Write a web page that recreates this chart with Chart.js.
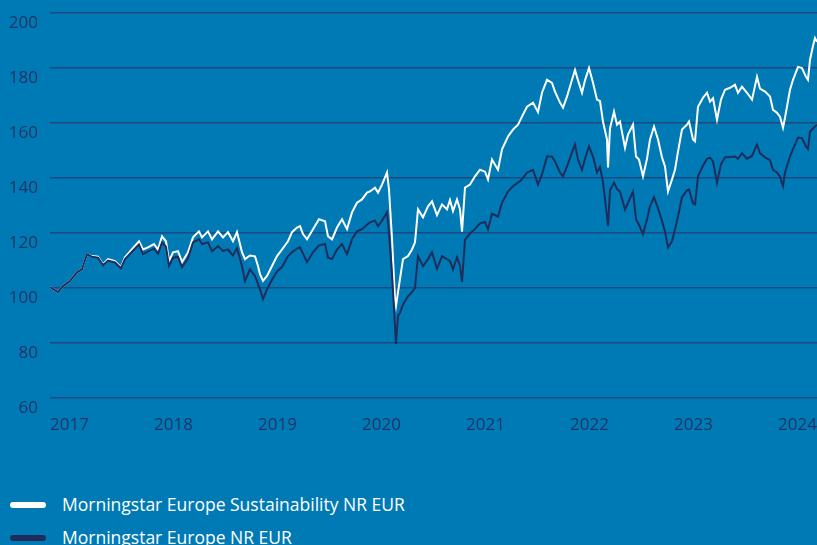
<!DOCTYPE html>
<html>
<head>
<meta charset="utf-8">
<script src="https://cdn.jsdelivr.net/npm/chart.js@4.4.1/dist/chart.umd.min.js"></script>
<style>
  body { margin: 0; background: #007ab5; font-family: "Open Sans", sans-serif; }
  #wrap { position: relative; width: 817px; height: 545px; overflow: hidden; }
  #box { position: absolute; left: 0; top: 0; width: 817px; height: 450px; }
  .leg { position: absolute; left: 10px; height: 24px; line-height: 24px; color: #fff; font-size: 17.5px; white-space: nowrap; }
  .leg i { display: inline-block; width: 36px; height: 6px; border-radius: 3px; vertical-align: middle; margin-right: 16px; position: relative; top: -1px; }
</style>
</head>
<body>
<div id="wrap">
  <div id="box"><canvas id="chart"></canvas></div>
  <div class="leg" id="leg1" style="top:492px"></div>
  <div class="leg" id="leg2" style="top:525px"></div>
</div>
<script>
// weeks since start of 2017
const weeks = [0, 4, 6.5, 10, 13.5, 16, 18.5, 21, 24, 26.5, 29, 32.5, 35.5, 37.5, 41, 44.5, 46.5, 49, 52, 54,
  56, 58, 59.5, 61.5, 64, 66, 69, 71.5, 74.5, 76, 79, 81, 84, 86.5, 89, 91.5, 93.5, 96, 97.5, 100,
  102.5, 104, 105, 106.5, 108.5, 111, 113.5, 116, 119, 121, 123.5, 125, 126.5, 128.5, 131.5, 134.5, 137.5, 139, 141, 143.5,
  146, 148.5, 151, 153.5, 156, 158.5, 160, 162.5, 164, 166, 168.5, 169.5, 171, 172.5, 173, 174, 175, 176.5, 179, 181,
  182.5, 184, 186.5, 189, 191, 193.5, 196, 198.5, 200, 201.5, 203.5, 205, 206, 207.5, 210, 212.5, 215, 217.5, 219, 221,
  224, 226, 229, 231.5, 234, 236, 238.5, 241.5, 244, 246, 248.5, 251, 252.5, 255, 256.5, 258.5, 261, 262.5, 264, 266,
  267.5, 269.5, 271.5, 273.5, 275, 276.5, 278.5, 279, 280, 282, 283.5, 285, 287.5, 289, 291.5, 293, 294.5, 296.5, 298.5, 300,
  302, 304, 306, 307.5, 309, 311, 312.5, 314, 316, 318.5, 319.5, 321.5, 322.5, 324, 326.5, 328.5, 330, 331.5, 333.5, 335.5,
  337.5, 340, 342.5, 344, 346, 348.5, 351, 353.5, 355, 357.5, 360, 361.5, 363.5, 365, 366.5, 367.5, 370, 371.5, 374, 376,
  378, 379, 380, 381.5, 382.5, 383.5];

const sustainability = [100.3, 98.5, 100.7, 102.5, 105.7, 106.8, 112.2, 111.6, 111.4, 108.6, 110.5, 109.8, 107.6, 111.2, 114.1, 117, 114, 114.8, 116, 114,
  118.8, 117, 109.8, 113, 113.4, 109.4, 113, 118.4, 120.6, 118.4, 120.6, 117.7, 120.6, 118.4, 120.3, 117, 120.3, 113, 110.5, 111.8,
  111.5, 108, 105, 102.6, 104.4, 108, 111.6, 114, 117, 120.3, 122, 122.5, 119.6, 117.7, 121.4, 125, 124.3, 118.8, 117.7, 122,
  125, 121.4, 127.5, 131, 132.2, 134.7, 135.1, 136.5, 134.7, 137.6, 142, 135.8, 118, 96, 93.5, 98.5, 103.3, 110.5, 111.6, 114,
  116.6, 128.6, 125.7, 129.7, 131.5, 126.5, 130.4, 128.6, 132, 128, 132.2, 128.6, 120.5, 136.5, 137.6, 140.6, 143, 142.3, 139.5, 146.7,
  143, 150.4, 155.1, 157.6, 159.4, 162.3, 165.9, 167.4, 164, 171, 175.7, 174.6, 171.4, 167.4, 165.6, 169.6, 175.7, 179.3, 175.5, 171,
  175.5, 180, 174.6, 168.5, 168, 160.5, 154, 143.8, 158, 164.1, 159.4, 160.5, 151, 155.8, 159.4, 147.8, 146.7, 140.6, 147, 154,
  158.7, 154, 147.5, 144.2, 135.1, 139.5, 143, 149.6, 157.6, 159.4, 160.5, 154, 153.3, 165.9, 169.2, 171, 167.8, 169, 161.2, 168.5,
  172.1, 172.8, 173.9, 171, 173.2, 171, 168.5, 176.8, 172.5, 171.4, 169.6, 164.8, 163.7, 162.3, 158.3, 161.9, 172.1, 175.7, 180.4, 180,
  176.8, 175.7, 183, 188, 190.9, 189.5];

const europe = [100.3, 98.5, 100.7, 102.5, 105.7, 106.8, 112.2, 111.4, 111, 108.3, 110, 109.3, 107.2, 110.5, 113.2, 115.8, 112.3, 113.3, 114.3, 112.5,
  116.5, 115, 108, 111, 111.3, 107.6, 110.8, 116.6, 117.7, 116, 116.6, 113.4, 115.2, 113.5, 114, 111.8, 114.5, 108, 102.6, 106.8,
  104.4, 101.5, 99.5, 96, 99.5, 103, 106, 107.6, 111.6, 113, 114.3, 114.8, 112.5, 109.4, 113, 115.5, 116, 111, 110.5, 114,
  116, 112.3, 117.7, 120.6, 121.4, 123, 123.9, 124.5, 122.5, 124.5, 127.5, 120, 105, 86, 79.7, 89.9, 91, 94, 97, 98.5,
  100, 111.6, 108, 110.5, 113, 107, 111.6, 110.5, 109.8, 106.8, 111.2, 108, 102.2, 117.5, 119.8, 121.5, 123.5, 124, 121.4, 127,
  126, 131, 135.1, 137, 138.3, 139.5, 142, 143, 137.6, 141.3, 147.8, 147.8, 146, 142, 140.6, 144.2, 149.3, 152.2, 146.7, 143,
  147, 151.5, 147.8, 142, 144, 138.5, 126, 122.5, 135.5, 138.3, 136, 135, 128.5, 131, 135.1, 125, 123, 119.6, 125, 129.7,
  133, 129, 124.5, 120.5, 114.8, 117, 121.4, 126, 133, 135.5, 135.8, 130.8, 130.4, 140.6, 144.5, 147, 147.4, 146, 138.3, 145,
  147.5, 147.6, 147.8, 147, 149, 147, 148, 152.2, 149, 147.5, 146.5, 143, 142, 140.5, 137, 142, 147.8, 150.5, 154.7, 154.5,
  151.5, 150.5, 156.9, 158, 158.7, 159.4];

const yearTicks = [0, 52, 104, 156, 208, 260, 312, 364];
const yearLabels = ['2017', '2018', '2019', '2020', '2021', '2022', '2023', '2024'];

const seriesNames = ['Morningstar Europe Sustainability NR EUR', 'Morningstar Europe NR EUR'];
const seriesColors = ['#ffffff', '#1f2d5c'];

const gridColor = '#1d4a80';
const tickColor = '#1f3566';

function toPoints(values) {
  return weeks.map((w, i) => ({ x: w, y: values[i] }));
}

const ctx = document.getElementById('chart').getContext('2d');
new Chart(ctx, {
  type: 'line',
  data: {
    datasets: [
      { label: seriesNames[1], data: toPoints(europe), borderColor: seriesColors[1], borderWidth: 2, pointRadius: 0, tension: 0 },
      { label: seriesNames[0], data: toPoints(sustainability), borderColor: seriesColors[0], borderWidth: 2, pointRadius: 0, tension: 0 }
    ]
  },
  options: {
    responsive: true,
    maintainAspectRatio: false,
    animation: false,
    layout: { padding: { top: 13, right: 0, left: 0, bottom: 0 } },
    plugins: { legend: { display: false }, tooltip: { enabled: false } },
    scales: {
      x: {
        type: 'linear',
        min: 0,
        max: 383.5,
        grid: { display: false },
        border: { display: false },
        afterBuildTicks: (scale) => { scale.ticks = yearTicks.map(v => ({ value: v })); },
        afterFit: (scale) => { scale.height = 52; scale.paddingLeft = 0; scale.paddingRight = 0; },
        ticks: {
          align: 'start',
          maxRotation: 0,
          autoSkip: false,
          padding: 9,
          color: tickColor,
          font: { family: 'Open Sans', size: 17 },
          callback: (v) => yearLabels[yearTicks.indexOf(v)]
        }
      },
      y: {
        min: 60,
        max: 200,
        grid: { color: gridColor, lineWidth: 1.5, drawTicks: false },
        border: { display: false },
        afterFit: (scale) => { scale.width = 50; scale.paddingTop = 0; scale.paddingBottom = 0; },
        ticks: {
          stepSize: 20,
          padding: 12,
          labelOffset: 10,
          color: tickColor,
          font: { family: 'Open Sans', size: 17 }
        }
      }
    }
  }
});

// legend
[['leg1', 0], ['leg2', 1]].forEach(([id, k]) => {
  const el = document.getElementById(id);
  el.innerHTML = '<i style="background:' + seriesColors[k] + '"></i>' + seriesNames[k];
});
</script>
</body>
</html>
